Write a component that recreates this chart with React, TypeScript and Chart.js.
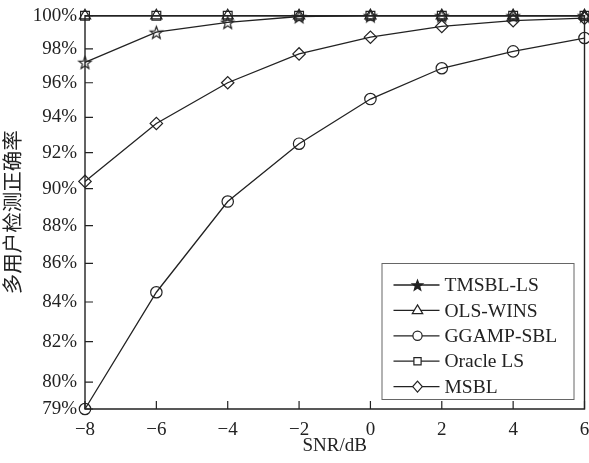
import React, { useEffect, useRef } from "react";
import { Chart, registerables } from "chart.js";

Chart.register(...registerables);

const snrDb = [-8, -6, -4, -2, 0, 2, 4, 6];
const tmsblLs = [97.2, 99.0, 99.6, 99.95, 100, 100, 100, 100];
const olsWins = [100, 100, 100, 100, 100, 100, 100, 100];
const ggampSbl = [78.7, 84.5, 89.3, 92.5, 95.05, 96.85, 97.85, 98.65];
const oracleLs = [100, 100, 100, 100, 100, 100, 100, 100];
const msbl = [90.4, 93.65, 96.0, 97.7, 98.7, 99.35, 99.7, 99.85];
const yTickValues = [78.7, 80, 82, 84, 86, 88, 90, 92, 94, 96, 98, 100];
const xTickValues = [-8, -6, -4, -2, 0, 2, 4, 6];

const seriesNames = ["TMSBL-LS", "OLS-WINS", "GGAMP-SBL", "Oracle LS", "MSBL"];
const seriesValues = [tmsblLs, olsWins, ggampSbl, oracleLs, msbl];
const markerKinds = ["star", "triangle", "circle", "rect", "rectRot"];

const INK = "#222222";
const SERIF = "'Liberation Serif', 'DejaVu Serif', serif";
const CJK = "'Noto Sans CJK SC', 'Noto Sans', sans-serif";

function starPath(ctx: CanvasRenderingContext2D, cx: number, cy: number, R: number) {
  const r = R * 0.42;
  ctx.beginPath();
  for (let i = 0; i < 10; i++) {
    const rad = i % 2 === 0 ? R : r;
    const a = -Math.PI / 2 + (i * Math.PI) / 5;
    const px = cx + rad * Math.cos(a);
    const py = cy + rad * Math.sin(a);
    if (i === 0) ctx.moveTo(px, py);
    else ctx.lineTo(px, py);
  }
  ctx.closePath();
}

function makeStarImage(R: number, fill: boolean) {
  const size = Math.ceil(R * 2 + 4);
  const c = document.createElement("canvas");
  c.width = size;
  c.height = size;
  const ctx = c.getContext("2d")!;
  starPath(ctx, size / 2, size / 2 + 0.8, R);
  ctx.strokeStyle = INK;
  ctx.lineWidth = 1.2;
  if (fill) {
    ctx.fillStyle = INK;
    ctx.fill();
  }
  ctx.stroke();
  return c;
}

function drawMarker(ctx: CanvasRenderingContext2D, kind: string, x: number, y: number) {
  ctx.save();
  ctx.strokeStyle = INK;
  ctx.fillStyle = "#fff";
  ctx.lineWidth = 1.2;
  if (kind === "star") {
    starPath(ctx, x, y + 0.6, 5.5);
    ctx.fillStyle = INK;
    ctx.fill();
    ctx.stroke();
  } else if (kind === "triangle") {
    const r = 5.5;
    ctx.beginPath();
    ctx.moveTo(x, y - r);
    ctx.lineTo(x + r * 0.95, y + r * 0.6);
    ctx.lineTo(x - r * 0.95, y + r * 0.6);
    ctx.closePath();
    ctx.fill();
    ctx.stroke();
  } else if (kind === "circle") {
    ctx.beginPath();
    ctx.arc(x, y, 4.6, 0, Math.PI * 2);
    ctx.fill();
    ctx.stroke();
  } else if (kind === "rect") {
    ctx.beginPath();
    ctx.rect(x - 3.6, y - 3.6, 7.2, 7.2);
    ctx.fill();
    ctx.stroke();
  } else {
    ctx.beginPath();
    ctx.moveTo(x, y - 5.5);
    ctx.lineTo(x + 4.8, y);
    ctx.lineTo(x, y + 5.5);
    ctx.lineTo(x - 4.8, y);
    ctx.closePath();
    ctx.fill();
    ctx.stroke();
  }
  ctx.restore();
}

const framePlugin = {
  id: "frameAndTicks",
  afterDatasetsDraw(chart: any) {
    const { ctx, chartArea } = chart;
    const xs = chart.scales.x;
    const ys = chart.scales.y;
    ctx.save();
    ctx.strokeStyle = INK;
    ctx.lineWidth = 1.4;
    ctx.beginPath();
    ctx.rect(chartArea.left, chartArea.top, chartArea.right - chartArea.left, chartArea.bottom - chartArea.top);
    ctx.stroke();
    ctx.lineWidth = 1.2;
    ctx.beginPath();
    xTickValues.forEach((v) => {
      const px = xs.getPixelForValue(v);
      ctx.moveTo(px, chartArea.bottom);
      ctx.lineTo(px, chartArea.bottom - 8);
    });
    yTickValues.forEach((v) => {
      const py = ys.getPixelForValue(v);
      ctx.moveTo(chartArea.left, py);
      ctx.lineTo(chartArea.left + 8, py);
    });
    ctx.stroke();
    ctx.restore();
  },
};

const legendPlugin = {
  id: "boxLegend",
  afterDraw(chart: any) {
    const { ctx, chartArea } = chart;
    const w = 192;
    const h = 136;
    const x0 = chartArea.right - 11 - w;
    const y0 = chartArea.bottom - 10 - h;
    ctx.save();
    ctx.fillStyle = "#fff";
    ctx.fillRect(x0, y0, w, h);
    ctx.strokeStyle = "#666";
    ctx.lineWidth = 1;
    ctx.strokeRect(x0 + 0.5, y0 + 0.5, w, h);
    chart.data.datasets.forEach((ds: any, i: number) => {
      const cy = y0 + 22 + i * 25.4;
      ctx.strokeStyle = INK;
      ctx.lineWidth = 1.3;
      ctx.beginPath();
      ctx.moveTo(x0 + 12, cy);
      ctx.lineTo(x0 + 58, cy);
      ctx.stroke();
      drawMarker(ctx, markerKinds[i], x0 + 36, cy);
      ctx.fillStyle = INK;
      ctx.font = `19.5px ${SERIF}`;
      ctx.textAlign = "left";
      ctx.textBaseline = "middle";
      ctx.fillText(ds.label, x0 + 63, cy + 1);
    });
    ctx.restore();
  },
};

export default function App() {
  const ref = useRef<HTMLCanvasElement | null>(null);

  useEffect(() => {
    document.body.style.margin = "0";
    const canvas = ref.current;
    if (!canvas) return;
    const starImg = makeStarImage(6.5, false);
    const pointStyles: any[] = [starImg, "triangle", "circle", "rect", "rectRot"];
    const radii = [6.5, 6.5, 5.7, 6.2, 6.2];

    const datasets = seriesNames.map((name, i) => ({
      label: name,
      data: snrDb.map((x, j) => ({ x, y: seriesValues[i][j] })),
      borderColor: INK,
      backgroundColor: "rgba(0,0,0,0)",
      borderWidth: 1.3,
      pointStyle: pointStyles[i],
      pointRadius: radii[i],
      pointBorderColor: INK,
      pointBackgroundColor: "rgba(0,0,0,0)",
      pointBorderWidth: 1.2,
      tension: 0,
      clip: false as any,
    }));

    const chart = new Chart(canvas, {
      type: "line",
      data: { datasets },
      options: {
        animation: false,
        responsive: false,
        devicePixelRatio: 1,
        layout: { autoPadding: false, padding: { top: 15.7, right: 4.5, left: 0, bottom: 0 } },
        plugins: { legend: { display: false }, tooltip: { enabled: false } },
        scales: {
          x: {
            type: "linear",
            min: -8,
            max: 6,
            afterBuildTicks: (scale: any) => {
              scale.ticks = xTickValues.map((v) => ({ value: v }));
            },
            afterFit: (scale: any) => {
              scale.height = 54;
              scale.paddingLeft = 0;
              scale.paddingRight = 0;
            },
            grid: { display: false, drawTicks: false },
            border: { display: false },
            ticks: {
              padding: 10,
              color: INK,
              font: { family: SERIF, size: 19 },
              maxRotation: 0,
              callback: (v: any) => (Number(v) < 0 ? "\u2212" + Math.abs(Number(v)) : String(v)),
            },
            title: {
              display: true,
              text: "SNR/dB",
              color: INK,
              font: { family: SERIF, size: 19 },
              padding: { top: 0, bottom: 6 },
            },
          },
          y: {
            type: "logarithmic",
            min: 78.7,
            max: 100,
            afterBuildTicks: (scale: any) => {
              scale.ticks = yTickValues.map((v) => ({ value: v }));
            },
            afterFit: (scale: any) => {
              scale.width = 85;
              scale.paddingTop = 0;
              scale.paddingBottom = 0;
            },
            grid: { display: false, drawTicks: false },
            border: { display: false },
            ticks: {
              padding: 8,
              color: INK,
              font: { family: SERIF, size: 19 },
              callback: (v: any) => Math.round(Number(v)) + "%",
            },
            title: {
              display: true,
              text: "多用户检测正确率",
              color: INK,
              font: { family: CJK, size: 20.5 },
              padding: { top: 0, bottom: 7 },
            },
          },
        },
      },
      plugins: [framePlugin, legendPlugin],
    });
    return () => chart.destroy();
  }, []);

  return (
    <div style={{ width: 589, height: 463 }}>
      <canvas ref={ref} width={589} height={463} />
    </div>
  );
}
